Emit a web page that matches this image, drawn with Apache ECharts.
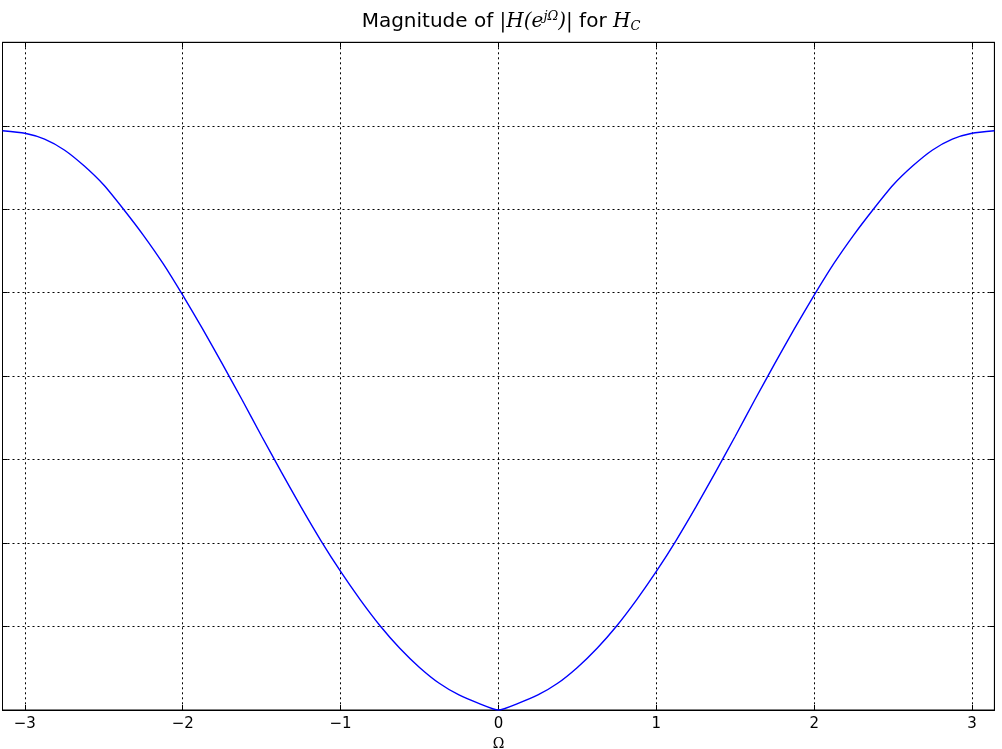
<!DOCTYPE html>
<html>
<head>
<meta charset="utf-8">
<script src="https://cdn.jsdelivr.net/npm/echarts@6/dist/echarts.min.js"></script>
<style>
  html, body { margin: 0; padding: 0; background: #fff; }
  #chart { width: 1002px; height: 749px; }
</style>
</head>
<body>
<div id="chart"></div>
<script>
// frequency (rad) and magnitude
const omega = [
  -3.1416, -3.0, -2.875, -2.75, -2.625, -2.5, -2.375, -2.25, -2.125, -2.0,
  -1.875, -1.75, -1.625, -1.5, -1.375, -1.25, -1.125, -1.0, -0.875, -0.75,
  -0.625, -0.5, -0.375, -0.25, -0.125, 0,
  0.125, 0.25, 0.375, 0.5, 0.625, 0.75, 0.875, 1.0, 1.125, 1.25,
  1.375, 1.5, 1.625, 1.75, 1.875, 2.0, 2.125, 2.25, 2.375, 2.5,
  2.625, 2.75, 2.875, 3.0, 3.1416
]
const magnitude = [
  6.94, 6.91, 6.84, 6.71, 6.52, 6.29, 6.00, 5.69, 5.35, 4.97,
  4.57, 4.15, 3.72, 3.28, 2.85, 2.43, 2.03, 1.66, 1.32, 1.01,
  0.74, 0.51, 0.32, 0.18, 0.08, 0.0,
  0.08, 0.18, 0.32, 0.51, 0.74, 1.01, 1.32, 1.66, 2.03, 2.43,
  2.85, 3.28, 3.72, 4.15, 4.57, 4.97, 5.35, 5.69, 6.00, 6.29,
  6.52, 6.71, 6.84, 6.91, 6.94
]
const xMin = -Math.PI
const xMax = Math.PI
const yMax = 8

const points = omega.map((w, i) => [w, magnitude[i]])

const myChart = echarts.init(document.getElementById('chart'))

const dotted = { show: true, lineStyle: { color: '#000', width: 1, type: [2, 3] } }
const inTick = { show: true, inside: true, length: 5, lineStyle: { color: '#000' } }

const options = {
  animation: false,
  backgroundColor: '#fff',
  title: {
    left: 'center',
    top: 5,
    text: '{a|Magnitude of }{m||H(e}{sup|jΩ}{m|)|}{a| for }{m|H}{sub|C}',
    textStyle: {
      fontWeight: 'normal',
      fontSize: 20,
      rich: {
        a: { fontFamily: 'DejaVu Sans', fontSize: 20, fontWeight: 'normal', color: '#000' },
        m: { fontFamily: 'DejaVu Serif', fontStyle: 'italic', fontWeight: 'normal', fontSize: 20, color: '#000' },
        sup: { fontFamily: 'DejaVu Serif', fontStyle: 'italic', fontWeight: 'normal', fontSize: 13, color: '#000', padding: [0, 0, 11, 0] },
        sub: { fontFamily: 'DejaVu Serif', fontStyle: 'italic', fontWeight: 'normal', fontSize: 13, color: '#000', padding: [9, 0, 0, 0] }
      }
    }
  },
  grid: {
    left: 2.5, right: 7.6, top: 42.3, bottom: 39,
    show: true, borderColor: '#000', borderWidth: 1,
    outerBoundsMode: 'none'
  },
  xAxis: [{
    type: 'value',
    min: xMin,
    max: xMax,
    name: 'Ω',
    nameLocation: 'middle',
    nameGap: 26,
    nameTextStyle: { fontFamily: 'DejaVu Serif', fontSize: 14, color: '#000' },
    axisLine: { show: true, onZero: false, lineStyle: { color: '#000' } },
    axisTick: inTick,
    axisLabel: {
      show: true, showMinLabel: false, showMaxLabel: false, margin: 7,
      fontFamily: 'DejaVu Sans', fontSize: 15, color: '#000',
      formatter: v => String(v).replace('-', '\u2212')
    },
    splitLine: dotted
  }, {
    type: 'value',
    position: 'top',
    min: xMin,
    max: xMax,
    axisLine: { show: true, onZero: false, lineStyle: { color: '#000' } },
    axisTick: inTick,
    axisLabel: { show: false },
    splitLine: { show: false }
  }],
  yAxis: [{
    type: 'value',
    min: 0,
    max: yMax,
    interval: 1,
    axisLine: { show: true, onZero: false, lineStyle: { color: '#000' } },
    axisTick: inTick,
    axisLabel: { show: false },
    splitLine: dotted
  }, {
    type: 'value',
    position: 'right',
    min: 0,
    max: yMax,
    interval: 1,
    axisLine: { show: true, onZero: false, lineStyle: { color: '#000' } },
    axisTick: inTick,
    axisLabel: { show: false },
    splitLine: { show: false }
  }],
  series: [{
    type: 'line',
    data: points,
    smooth: 0.2,
    showSymbol: false,
    lineStyle: { color: '#0000ff', width: 1.4 },
    clip: true
  }]
}
myChart.setOption(options)
</script>
</body>
</html>
